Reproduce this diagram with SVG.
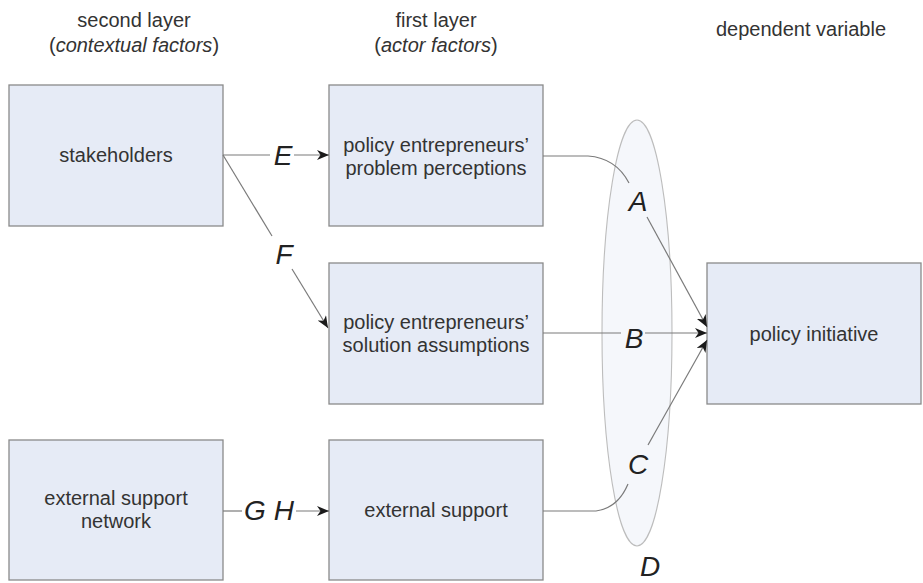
<svg xmlns="http://www.w3.org/2000/svg" width="923" height="583" viewBox="0 0 923 583">
  <style>
    .box { fill: #e6ebf6; stroke: #8a8a8a; stroke-width: 1.3; }
    .lbl { font-family: "Liberation Sans", Arial, sans-serif; font-size: 20px; fill: #333333; text-anchor: middle; }
    .head { font-family: "Liberation Sans", Arial, sans-serif; font-size: 20px; fill: #333333; text-anchor: middle; }
    .key { font-family: "Liberation Sans", Arial, sans-serif; font-size: 28px; font-style: italic; fill: #222222; text-anchor: middle; }
    .conn { fill: none; stroke: #7a7a7a; stroke-width: 1.2; }
    .arrow { marker-end: url(#arr); }
  </style>
  <defs>
    <marker id="arr" markerUnits="userSpaceOnUse" markerWidth="14" markerHeight="10" refX="12" refY="5" orient="auto">
      <path d="M0,0 L12,5 L0,10 L3.5,5 z" fill="#1a1a1a"/>
    </marker>
  </defs>
  <rect width="923" height="583" fill="#ffffff"/>

  <!-- column headings -->
  <g id="headings">
    <text class="head" x="134" y="27">second layer</text>
    <text class="head" x="134" y="52">(<tspan font-style="italic">contextual factors</tspan>)</text>
    <text class="head" x="436" y="27">first layer</text>
    <text class="head" x="436" y="52">(<tspan font-style="italic">actor factors</tspan>)</text>
    <text class="head" x="801" y="36">dependent variable</text>
  </g>

  <!-- grouping ellipse D -->
  <g id="group-D">
    <ellipse cx="637" cy="333" rx="35" ry="213" fill="#f5f7fb" stroke="#bdbdbd" stroke-width="1.1"/>
  </g>

  <!-- nodes -->
  <g id="stakeholders">
    <rect class="box" x="9" y="85" width="214" height="141"/>
    <text class="lbl" x="116" y="162">stakeholders</text>
  </g>
  <g id="problem-perceptions">
    <rect class="box" x="329" y="85" width="214" height="141"/>
    <text class="lbl" x="436" y="152">policy entrepreneurs’</text>
    <text class="lbl" x="436" y="175">problem perceptions</text>
  </g>
  <g id="solution-assumptions">
    <rect class="box" x="329" y="263" width="214" height="141"/>
    <text class="lbl" x="436" y="329">policy entrepreneurs’</text>
    <text class="lbl" x="436" y="352">solution assumptions</text>
  </g>
  <g id="support-network">
    <rect class="box" x="9" y="440" width="214" height="140"/>
    <text class="lbl" x="116" y="505">external support</text>
    <text class="lbl" x="116" y="528">network</text>
  </g>
  <g id="external-support">
    <rect class="box" x="329" y="440" width="214" height="140"/>
    <text class="lbl" x="436" y="517">external support</text>
  </g>
  <g id="policy-initiative">
    <rect class="box" x="707" y="263" width="214" height="141"/>
    <text class="lbl" x="814" y="341">policy initiative</text>
  </g>

  <!-- connectors -->
  <g id="connectors">
    <!-- E -->
    <path class="conn" d="M223,155 L270,155"/>
    <path class="conn arrow" d="M294,155 L329,155"/>
    <!-- F -->
    <path class="conn" d="M223,155 L272,236"/>
    <path class="conn arrow" d="M292,269 L328,328"/>
    <!-- G H -->
    <path class="conn" d="M223,511 L242,511"/>
    <path class="conn arrow" d="M296,511 L329,511"/>
    <!-- A -->
    <path class="conn" d="M543,156 L588,156 Q616,158 629,183"/>
    <path class="conn arrow" d="M647,217 L707,327"/>
    <!-- B -->
    <path class="conn" d="M543,333 L621,333"/>
    <path class="conn arrow" d="M645,333 L707,333"/>
    <!-- C -->
    <path class="conn" d="M543,511 L596,511 Q618,508 628,484"/>
    <path class="conn arrow" d="M648,445 L707,340"/>
  </g>

  <!-- relation labels -->
  <g id="relation-labels">
    <text class="key" x="283" y="165">E</text>
    <text class="key" x="284" y="264">F</text>
    <text class="key" x="269" y="520">G H</text>
    <text class="key" x="638" y="211">A</text>
    <text class="key" x="634" y="348">B</text>
    <text class="key" x="638" y="474">C</text>
    <text class="key" x="650" y="576">D</text>
  </g>
</svg>
